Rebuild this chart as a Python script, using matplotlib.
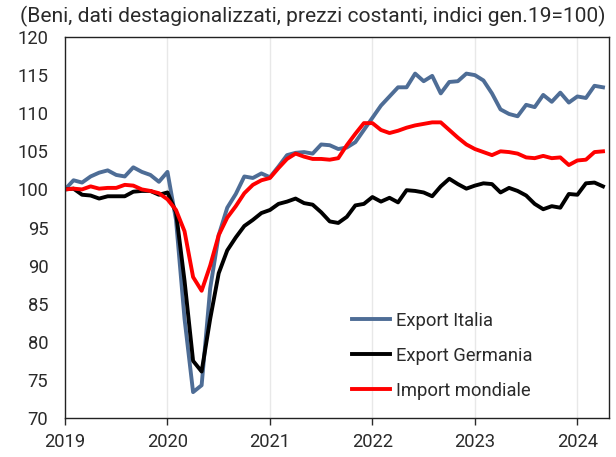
import matplotlib
matplotlib.use("Agg")
import matplotlib.pyplot as plt
import numpy as np

plt.rcParams['font.family'] = ['Roboto', 'DejaVu Sans']

years = ["2019", "2020", "2021", "2022", "2023", "2024"]

export_italia = [
    100.0, 101.2, 100.9, 101.7, 102.2, 102.5, 101.9, 101.7, 102.9, 102.3, 101.9, 101.0,
    102.3, 96.0, 83.0, 73.4, 74.3, 87.0, 94.0, 97.6, 99.4, 101.7, 101.5, 102.1,
    101.6, 103.0, 104.5, 104.8, 104.9, 104.7, 105.9, 105.8, 105.3, 105.5, 106.2, 107.8,
    109.4, 111.0, 112.2, 113.4, 113.4, 115.2, 114.2, 114.9, 112.6, 114.1, 114.2, 115.2,
    115.0, 114.3, 112.6, 110.5, 109.9, 109.6, 111.1, 110.8, 112.4, 111.5, 112.7, 111.4,
    112.2, 112.0, 113.6, 113.4,
]
export_germania = [
    100.0, 100.1, 99.3, 99.2, 98.8, 99.1, 99.1, 99.1, 99.7, 99.8, 99.8, 99.3,
    99.6, 97.0, 88.0, 77.5, 76.1, 83.0, 89.0, 92.0, 93.7, 95.2, 96.0, 96.9,
    97.3, 98.1, 98.4, 98.8, 98.2, 98.0, 97.0, 95.8, 95.6, 96.4, 97.9, 98.1,
    99.0, 98.4, 98.9, 98.3, 99.9, 99.8, 99.6, 99.1, 100.4, 101.4, 100.7, 100.1,
    100.5, 100.8, 100.7, 99.6, 100.2, 99.8, 99.2, 98.1, 97.4, 97.8, 97.6, 99.4,
    99.3, 100.8, 100.9, 100.4,
]
import_mondiale = [
    100.0, 100.1, 100.0, 100.4, 100.1, 100.2, 100.2, 100.6, 100.5, 100.0, 99.8, 99.5,
    98.7, 97.3, 94.5, 88.5, 86.7, 90.0, 94.0, 96.3, 97.8, 99.5, 100.6, 101.2,
    101.5, 102.8, 104.0, 104.7, 104.3, 104.0, 104.0, 103.9, 104.1, 105.8, 107.3, 108.7,
    108.7, 107.8, 107.4, 107.7, 108.1, 108.4, 108.6, 108.8, 108.8, 107.8, 106.8, 105.9,
    105.3, 104.9, 104.5, 105.0, 104.9, 104.7, 104.2, 104.1, 104.4, 104.1, 104.2, 103.2,
    103.8, 103.9, 104.9, 105.0,
]

x = np.arange(len(export_italia))

fig = plt.figure(figsize=(6.16, 4.57), dpi=100)
ax = fig.add_axes([0.1055, 0.0853, 0.8831, 0.8337])

for xv in range(12, 61, 12):
    ax.axvline(xv, color='#e8e8e8', lw=1, zorder=0)

ax.plot(x, export_italia, color='#4e6d96', lw=2.8, label='Export Italia', solid_joinstyle='round')
ax.plot(x, export_germania, color='black', lw=2.8, label='Export Germania', solid_joinstyle='round')
ax.plot(x, import_mondiale, color='#ff0000', lw=2.8, label='Import mondiale', solid_joinstyle='round')

ax.set_xlim(0, 63.7)
ax.set_ylim(70, 120)
ax.set_yticks(np.arange(70, 121, 5))
ax.set_xticks(np.arange(0, 61, 12))
ax.set_xticklabels(years)
ax.tick_params(axis='both', labelsize=13.2, colors='#2a2a2a')
ax.tick_params(axis='x', length=5, width=1, pad=6)
ax.tick_params(axis='y', length=0, pad=12)
for s in ax.spines.values():
    s.set_linewidth(1.0)
    s.set_color('#222222')

leg = ax.legend(loc='lower left', bbox_to_anchor=(0.497, 0.005), frameon=False,
                fontsize=13.2, handlelength=2.1, labelspacing=0.93, handletextpad=0.3)
for t in leg.get_texts():
    t.set_color('#2a2a2a')

fig.text(0.983, 0.965, "(Beni, dati destagionalizzati, prezzi costanti, indici gen.19=100)",
         ha='right', va='center', fontsize=15.1, color='#2a2a2a')

fig.savefig("out.png", dpi=100)
